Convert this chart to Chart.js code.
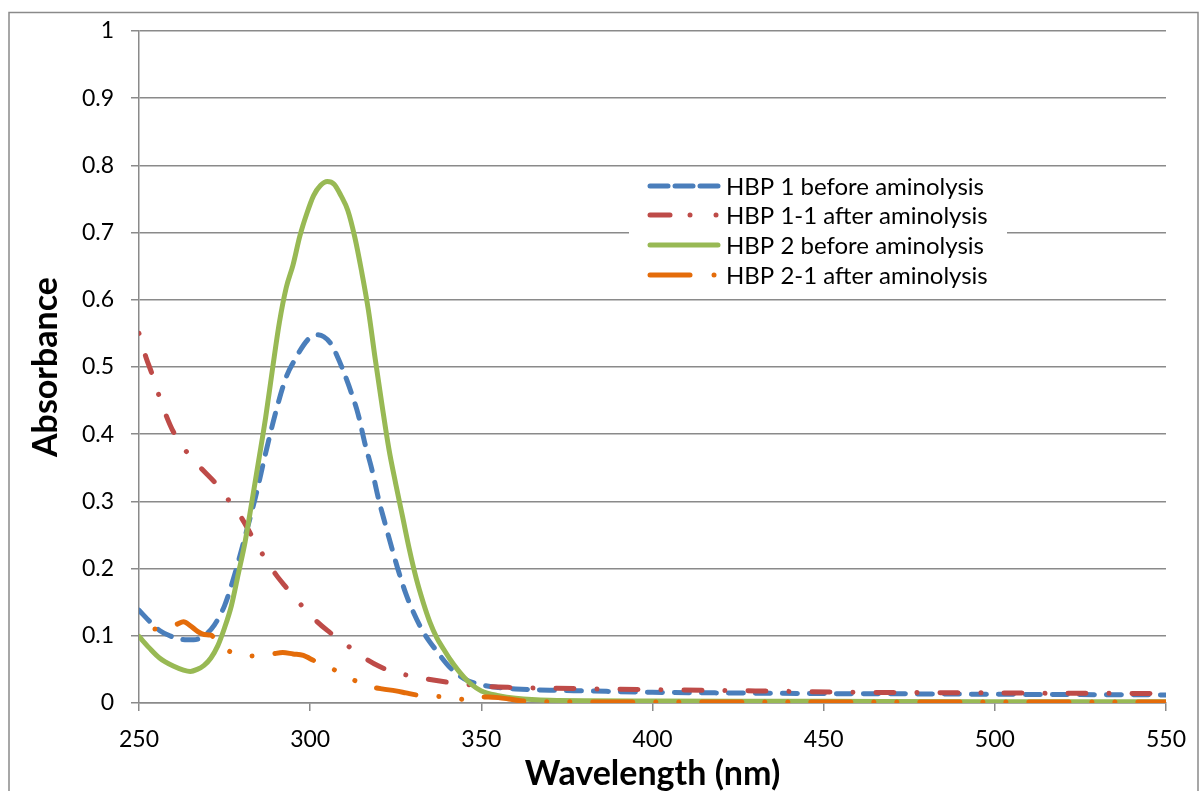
<!DOCTYPE html>
<html>
<head>
<meta charset="utf-8">
<script src="https://cdn.jsdelivr.net/npm/chart.js@4.4.1/dist/chart.umd.min.js"></script>
<style>
  html, body { margin: 0; padding: 0; background: #fff; }
  canvas { display: block; }
</style>
</head>
<body>
<canvas id="chart" width="1201" height="791"></canvas>
<script>
// Wavelength (nm) / absorbance pairs
const hbp1Wl = [250, 253, 256, 259, 262, 266, 269, 272, 275, 278, 281, 284, 287, 290, 293, 296, 298, 300, 302, 304, 306, 308, 310, 312, 314, 316, 318, 320, 322, 324, 326, 328, 330, 333, 337, 341, 345, 350, 355, 360, 370, 380, 400, 420, 450, 480, 500, 525, 550];
const hbp1Abs = [0.138, 0.122, 0.108, 0.100, 0.095, 0.094, 0.100, 0.116, 0.145, 0.192, 0.248, 0.306, 0.372, 0.434, 0.485, 0.515, 0.532, 0.544, 0.548, 0.545, 0.535, 0.515, 0.490, 0.462, 0.430, 0.386, 0.348, 0.303, 0.265, 0.228, 0.193, 0.162, 0.137, 0.106, 0.077, 0.052, 0.036, 0.027, 0.023, 0.021, 0.019, 0.018, 0.016, 0.015, 0.014, 0.0135, 0.013, 0.0125, 0.012];

const hbp11Wl = [250, 252, 254, 256, 258, 260, 264, 268, 272, 276, 280, 283, 286, 290, 293, 297, 301, 305, 310, 315, 320, 325, 330, 335, 340, 345, 350, 360, 370, 400, 430, 460, 500, 550];
const hbp11Abs = [0.550, 0.515, 0.487, 0.455, 0.427, 0.404, 0.373, 0.350, 0.329, 0.303, 0.275, 0.248, 0.222, 0.191, 0.172, 0.148, 0.126, 0.108, 0.089, 0.070, 0.055, 0.045, 0.040, 0.035, 0.031, 0.028, 0.025, 0.023, 0.022, 0.020, 0.018, 0.016, 0.015, 0.014];

const hbp2Wl = [250, 253, 256, 260, 263, 265, 267, 269, 271, 273, 275, 277, 279, 281, 283, 285, 287, 289, 291, 293, 295, 297, 299, 301, 303, 305, 307, 309, 311, 313, 315, 317, 319, 321, 323, 325, 327, 329, 331, 333, 335, 337, 339, 341, 343, 345, 347, 350, 355, 360, 370, 400, 450, 500, 550];
const hbp2Abs = [0.099, 0.082, 0.067, 0.055, 0.049, 0.047, 0.050, 0.056, 0.067, 0.085, 0.112, 0.145, 0.192, 0.240, 0.300, 0.362, 0.425, 0.497, 0.566, 0.618, 0.652, 0.695, 0.728, 0.755, 0.770, 0.776, 0.772, 0.755, 0.733, 0.694, 0.643, 0.585, 0.512, 0.443, 0.378, 0.326, 0.277, 0.228, 0.185, 0.150, 0.120, 0.097, 0.080, 0.064, 0.050, 0.038, 0.028, 0.018, 0.011, 0.007, 0.004, 0.003, 0.0025, 0.002, 0.002];

const hbp21Wl = [250, 254, 258, 261, 263, 265, 267, 269, 271, 273, 276, 279, 282, 286, 289, 292, 295, 298, 300, 303, 306, 309, 312, 315, 318, 321, 325, 328, 331, 335, 340, 345, 347, 349, 352, 355, 358, 362, 370, 400, 450, 500, 550];
const hbp21Abs = [0.112, 0.110, 0.112, 0.117, 0.121, 0.115, 0.107, 0.102, 0.101, 0.090, 0.078, 0.073, 0.070, 0.071, 0.073, 0.075, 0.073, 0.071, 0.066, 0.058, 0.052, 0.044, 0.036, 0.029, 0.024, 0.021, 0.018, 0.015, 0.012, 0.010, 0.009, 0.005, 0.004, 0.008, 0.009, 0.008, 0.006, 0.003, 0.002, 0.0015, 0.0015, 0.0015, 0.0015];

const seriesNames = ["HBP 1 before aminolysis", "HBP 1-1 after aminolysis", "HBP 2 before aminolysis", "HBP 2-1 after aminolysis"];
const xTicks = [250, 300, 350, 400, 450, 500, 550];
const yTicks = [0, 0.1, 0.2, 0.3, 0.4, 0.5, 0.6, 0.7, 0.8, 0.9, 1];

const colors = ["#4a7ebb", "#be4b48", "#98b954", "#e46c0a"];
const dashes = [[15, 12], [18, 23, 0.01, 23], [], [40, 23, 0.01, 23, 0.01, 23]];
const dashOffsets = [0, 41, 0, 70];
// legend swatch segments, [start, end] px from swatch start
const legendSegs = [
  [[2, 20], [27, 45], [52, 70]],
  [[2, 22], [42, 42.01], [68, 68.01]],
  [[2, 70]],
  [[2, 42], [66, 66.01]]
];

const gridColor = "#8a8a8a";
const fontFam = "Lato, 'Open Sans', sans-serif";

function pts(xs, ys) {
  return xs.map((x, i) => ({ x: x, y: ys[i] }));
}

const allData = [pts(hbp1Wl, hbp1Abs), pts(hbp11Wl, hbp11Abs), pts(hbp2Wl, hbp2Abs), pts(hbp21Wl, hbp21Abs)];

const frame = {
  id: "frame",
  beforeDraw(chart) {
    const c = chart.ctx;
    c.save();
    c.fillStyle = "#fff";
    c.fillRect(0, 0, chart.width, chart.height);
    c.strokeStyle = gridColor;
    c.lineWidth = 1.5;
    c.strokeRect(9, 12.5, 1189, 800);
    c.restore();
  }
};

const boxLegend = {
  id: "boxLegend",
  afterDraw(chart) {
    const c = chart.ctx;
    c.save();
    c.fillStyle = "#fff";
    c.fillRect(629, 168, 378, 128);
    c.font = "24px " + fontFam;
    c.textBaseline = "middle";
    c.lineCap = "round";
    c.lineWidth = 5;
    const rowY = [186, 215, 245, 275];
    seriesNames.forEach((name, i) => {
      c.strokeStyle = colors[i];
      legendSegs[i].forEach(s => {
        c.beginPath();
        c.moveTo(648 + s[0], rowY[i]);
        c.lineTo(648 + s[1], rowY[i]);
        c.stroke();
      });
      c.fillStyle = "#000";
      c.fillText(name, 726, rowY[i] + 1);
    });
    c.restore();
  }
};

new Chart(document.getElementById("chart"), {
  type: "line",
  data: {
    datasets: allData.map((d, i) => ({
      label: seriesNames[i],
      data: d,
      borderColor: colors[i],
      backgroundColor: colors[i],
      borderWidth: 5,
      borderDash: dashes[i],
      borderDashOffset: dashOffsets[i],
      borderCapStyle: "round",
      borderJoinStyle: "round",
      pointRadius: 0,
      cubicInterpolationMode: "monotone",
      fill: false,
      order: 4 - i
    }))
  },
  options: {
    responsive: false,
    animation: false,
    devicePixelRatio: 1,
    layout: { padding: { top: 31, right: 33, left: 0, bottom: 0 } },
    plugins: {
      legend: { display: false },
      tooltip: { enabled: false }
    },
    scales: {
      x: {
        type: "linear",
        min: 250,
        max: 550,
        afterBuildTicks: s => { s.ticks = xTicks.map(v => ({ value: v })); },
        afterFit: s => { s.height = 88; },
        ticks: { color: "#000", font: { family: fontFam, size: 23 }, padding: 15, maxRotation: 0 },
        grid: { drawOnChartArea: false, drawTicks: true, tickLength: 8, color: gridColor, lineWidth: 1.5 },
        border: { color: gridColor, width: 1.5 },
        title: { display: true, text: "Wavelength (nm)", color: "#000", font: { family: fontFam, size: 34, weight: "bold", lineHeight: 1 }, padding: { top: 0, bottom: 0 } }
      },
      y: {
        min: 0,
        max: 1,
        afterBuildTicks: s => { s.ticks = yTicks.map(v => ({ value: v })); },
        afterFit: s => { s.width = 139; },
        ticks: { color: "#000", font: { family: fontFam, size: 23 }, padding: 17, callback: v => String(Math.round(v * 10) / 10) },
        grid: { color: gridColor, lineWidth: 1.5, tickLength: 8 },
        border: { color: gridColor, width: 1.5 },
        title: { display: true, text: "Absorbance", color: "#000", font: { family: fontFam, size: 34, weight: "bold", lineHeight: 1 }, padding: { top: 29, bottom: 0 } }
      }
    }
  },
  plugins: [frame, boxLegend]
});
</script>
</body>
</html>
